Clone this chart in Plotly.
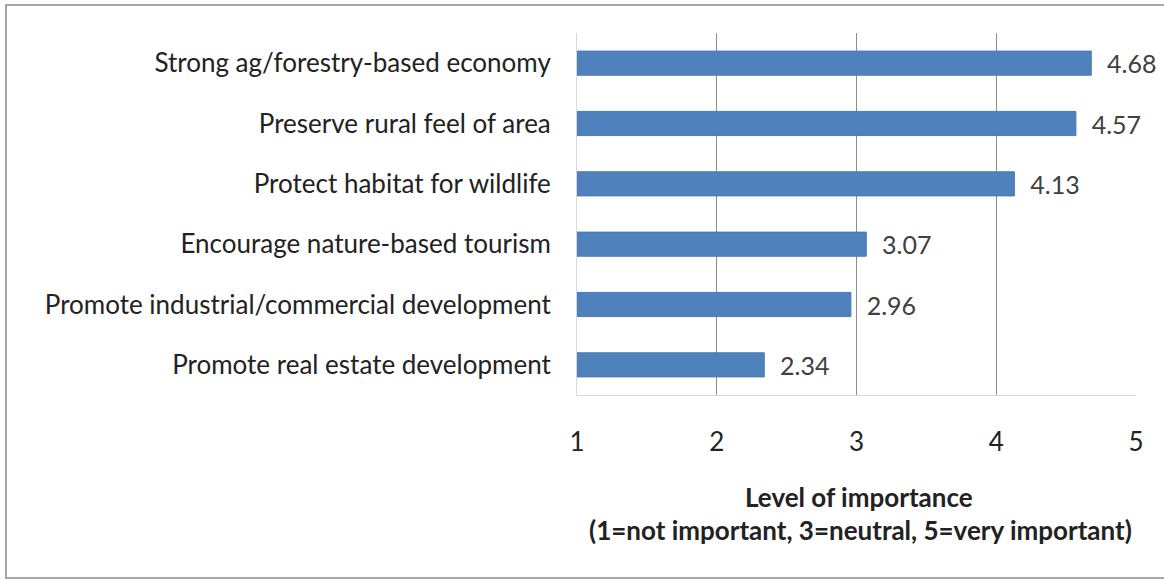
import plotly.graph_objects as go

categories = [
    "Strong ag/forestry-based economy",
    "Preserve rural feel of area",
    "Protect habitat for wildlife",
    "Encourage nature-based tourism",
    "Promote industrial/commercial development",
    "Promote real estate development",
]
values = [4.68, 4.57, 4.13, 3.07, 2.96, 2.34]
tick_values = [1, 2, 3, 4, 5]
tick_labels = ["1", "2", "3", "4", "5"]
title_line1 = "Level of importance"
title_line2 = "(1=not important, 3=neutral, 5=very important)"
axis_start = 1

W, H = 1164, 580
L, R, T, B = 577, 28, 33, 185
pw, ph = W - L - R, H - T - B

fig = go.Figure()
fig.add_trace(go.Bar(
    x=[v - axis_start for v in values],
    y=categories,
    orientation="h",
    base=axis_start,
    marker=dict(color="#4F81BD", line=dict(color="#4A7AB5", width=1)),
    text=["  " + f"{v:.2f}" for v in values],
    textposition="outside",
    constraintext="none",
    textfont=dict(family="Lato", size=25, color="#404040"),
    cliponaxis=False,
    hoverinfo="skip",
))

fig.update_layout(
    width=W, height=H, autosize=False,
    margin=dict(l=L, r=R, t=T, b=B, pad=0),
    paper_bgcolor="white", plot_bgcolor="white",
    bargap=0.6,
    showlegend=False,
    font=dict(family="Lato", color="#222222"),
    xaxis=dict(
        range=[1, 5], tickvals=tick_values, ticktext=tick_labels,
        showgrid=True, gridcolor="#8c8c8c", gridwidth=1,
        zeroline=False, showline=True, linecolor="#d9d9d9", linewidth=1,
        ticks="", tickfont=dict(family="Lato", size=26, color="#222222"),
        ticklabelstandoff=24,
    ),
    yaxis=dict(
        categoryorder="array", categoryarray=categories[::-1],
        showgrid=False, zeroline=False, showline=True,
        linecolor="#d9d9d9", linewidth=1, ticks="",
        tickfont=dict(family="Lato", size=26, color="#222222"),
        ticklabelstandoff=20,
    ),
)

def px2x(px):
    return (px - L) / pw

def px2y(py):
    return (H - B - py) / ph

fig.add_annotation(text="<b>" + title_line1 + "</b>", xref="paper", yref="paper",
                   x=px2x(859), y=px2y(497), showarrow=False,
                   font=dict(family="Lato", size=26, color="#222222"),
                   xanchor="center", yanchor="middle")
fig.add_annotation(text="<b>" + title_line2 + "</b>", xref="paper", yref="paper",
                   x=px2x(860), y=px2y(530), showarrow=False,
                   font=dict(family="Lato", size=26, color="#222222"),
                   xanchor="center", yanchor="middle")

fig.add_shape(type="rect", xref="paper", yref="paper",
              x0=px2x(6), x1=px2x(1175), y0=px2y(578), y1=px2y(5),
              line=dict(color="#a6a6a6", width=2), layer="below")

fig.write_html("out.html", config={"displayModeBar": False},
               post_script="document.body.style.margin='0';document.body.style.padding='0';")
